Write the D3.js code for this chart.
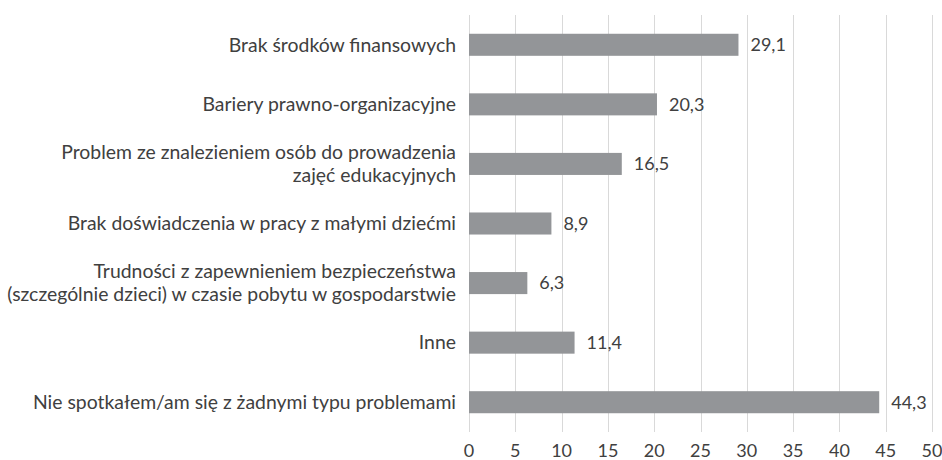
<!DOCTYPE html>
<html>
<head>
<meta charset="utf-8">
<script src="https://cdn.jsdelivr.net/npm/d3@7"></script>
<style>
  body { margin: 0; background: #fff; }
  svg text { font-family: Lato, "Open Sans", sans-serif; fill: #404040; }
</style>
</head>
<body>
<div id="chart"></div>
<script>
// kategorie (każda linia etykiety osobno)
var categories = [
    ["Brak środków finansowych"],
    ["Bariery prawno-organizacyjne"],
    ["Problem ze znalezieniem osób do prowadzenia", "zajęć edukacyjnych"],
    ["Brak doświadczenia w pracy z małymi dziećmi"],
    ["Trudności z zapewnieniem bezpieczeństwa", "(szczególnie dzieci) w czasie pobytu w gospodarstwie"],
    ["Inne"],
    ["Nie spotkałem/am się z żadnymi typu problemami"]
];
var values = [29.1, 20.3, 16.5, 8.9, 6.3, 11.4, 44.3];
var xTicks = [0, 5, 10, 15, 20, 25, 30, 35, 40, 45, 50];

var width = 942, height = 460;
var margin = {top: 15, right: 10, bottom: 28, left: 469};
var innerW = 932 - margin.left, innerH = height - margin.top - margin.bottom;

var svg = d3.select("#chart").append("svg")
    .attr("width", width)
    .attr("height", height);

var g = svg.append("g")
    .attr("transform", "translate(" + margin.left + "," + margin.top + ")");

var x = d3.scaleLinear().domain([0, 50]).range([0, innerW]);
var y = d3.scaleBand()
    .domain(d3.range(categories.length))
    .range([0, innerH])
    .paddingInner(0.63)
    .paddingOuter(0.315);

// siatka pionowa
g.append("g")
    .selectAll("line")
    .data(xTicks)
    .enter()
    .append("line")
    .attr("x1", function(d) { return Math.round(x(d)) + 0.5; })
    .attr("x2", function(d) { return Math.round(x(d)) + 0.5; })
    .attr("y1", 0)
    .attr("y2", innerH)
    .attr("stroke", "#d9d9d9")
    .attr("stroke-width", 1);

// etykiety osi X
g.append("g")
    .selectAll("text")
    .data(xTicks)
    .enter()
    .append("text")
    .attr("x", function(d) { return x(d); })
    .attr("y", innerH + 19)
    .attr("dy", "0.35em")
    .attr("text-anchor", "middle")
    .style("font-size", "18px")
    .text(function(d) { return d; });

// słupki
g.append("g")
    .selectAll("rect")
    .data(values)
    .enter()
    .append("rect")
    .attr("x", 0)
    .attr("y", function(d, i) { return y(i); })
    .attr("width", function(d) { return x(d); })
    .attr("height", y.bandwidth())
    .attr("fill", "#939598");

// wartości
g.append("g")
    .selectAll("text")
    .data(values)
    .enter()
    .append("text")
    .attr("x", function(d) { return x(d) + 12; })
    .attr("y", function(d, i) { return y(i) + y.bandwidth() / 2; })
    .attr("dy", "0.35em")
    .style("font-size", "18px")
    .text(function(d) { return String(d).replace(".", ","); });

// etykiety kategorii
var lineH = 23;
g.append("g")
    .selectAll("text")
    .data(categories)
    .enter()
    .append("text")
    .attr("text-anchor", "end")
    .style("font-size", "19.4px")
    .each(function(lines, i) {
        var cy = y(i) + y.bandwidth() / 2;
        var t = d3.select(this);
        lines.forEach(function(line, k) {
            t.append("tspan")
                .attr("x", -13)
                .attr("y", cy + (k - (lines.length - 1) / 2) * lineH)
                .attr("dy", "0.35em")
                .text(line);
        });
    });
</script>
</body>
</html>
